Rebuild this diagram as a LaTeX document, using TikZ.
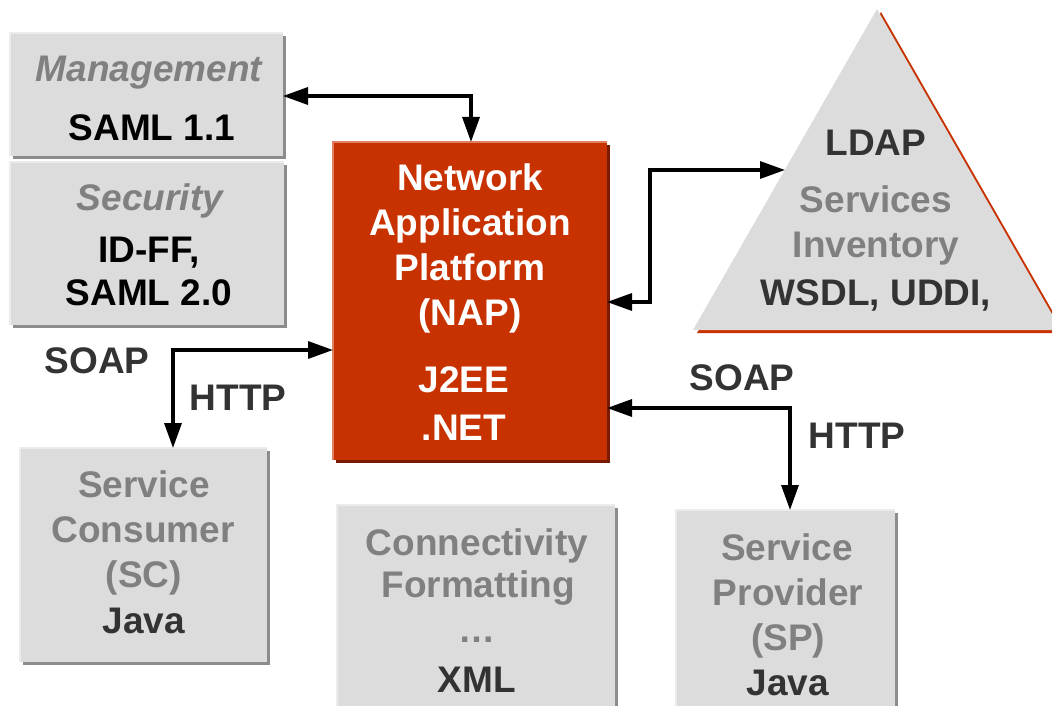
\documentclass[tikz,border=0pt]{standalone}
\usepackage{fontspec}
\setmainfont{Liberation Sans}
\usetikzlibrary{arrows.meta,shadows}
\definecolor{boxgray}{HTML}{DCDCDC}
\definecolor{shadowgray}{HTML}{8C8C8C}
\definecolor{hlgray}{HTML}{ECECEC}
\definecolor{napred}{HTML}{C83200}
\definecolor{napdark}{HTML}{7A1A00}
\definecolor{naphl}{HTML}{E08060}
\definecolor{txtgray}{HTML}{808080}
\definecolor{txtdark}{HTML}{333333}
\tikzset{
 box/.style={rectangle, inner sep=0pt, outer sep=0pt},
 graybox/.style={box, fill=boxgray, general shadow={fill=shadowgray, shadow xshift=3pt, shadow yshift=-3pt}},
 redbox/.style={box, fill=napred, general shadow={fill=napdark, shadow xshift=3pt, shadow yshift=-3pt}},
 hl/.style={line width=2pt, draw=hlgray},
 redhl/.style={line width=2.5pt, draw=naphl},
 txt/.style={anchor=base, inner sep=0pt, font=\fontsize{37}{44}\selectfont\bfseries},
 gtxt/.style={txt, text=txtgray},
 dtxt/.style={txt, text=txtdark},
 btxt/.style={txt, text=black},
 wtxt/.style={txt, text=white},
 itxt/.style={txt, text=txtgray, font=\fontsize{37}{44}\selectfont\bfseries\itshape},
 conn/.style={line width=3.3pt, {Triangle[length=25pt,width=17pt]}-{Triangle[length=25pt,width=17pt]}},
}
\begin{document}
\begin{tikzpicture}[x=1pt,y=-1pt]
\useasboundingbox (0,0) rectangle (1052,706);
\clip (0,0) rectangle (1052,706);
% triangle (LDAP / Services Inventory)
\fill[napred] (881,12) -- (697,333) -- (1065,333) -- cycle;
\fill[boxgray] (877,9) -- (693,330) -- (1061,330) -- cycle;
\coordinate (ldapin) at (785,170);
% boxes
\node[graybox, minimum width=273pt, minimum height=123pt] (mgmt) at (146.5,94.5) {};
\node[graybox, minimum width=274pt, minimum height=163pt] (sec) at (147,243.5) {};
\node[redbox, minimum width=274pt, minimum height=318pt] (nap) at (470,301) {};
\node[graybox, minimum width=247pt, minimum height=214pt] (sc) at (143.5,555) {};
\node[graybox, minimum width=278pt, minimum height=255pt] (cfx) at (476,632.5) {};
\node[graybox, minimum width=219pt, minimum height=250pt] (sp) at (785.5,635) {};
\draw[hl] (mgmt.south west) |- (mgmt.north east);
\draw[hl] (sec.south west) |- (sec.north east);
\draw[hl] (sc.south west) |- (sc.north east);
\draw[hl] (cfx.south west) |- (cfx.north east);
\draw[hl] (sp.south west) |- (sp.north east);
\draw[redhl] (nap.south west) |- (nap.north east);
% texts
\node[itxt] (t1) at (149,82) {Management};
\node[btxt] (t2) at (152,140) {SAML 1.1};
\node[itxt] (t3) at (150,210) {Security};
\node[btxt] (t4) at (149,262) {ID-FF,};
\node[btxt] (t5) at (149,305) {SAML 2.0};
\node[wtxt] (t6) at (470,190) {Network};
\node[wtxt] (t7) at (470,235) {Application};
\node[wtxt] (t8) at (470,280) {Platform};
\node[wtxt] (t9) at (470,325) {(NAP)};
\node[wtxt] (t10) at (464,392) {J2EE};
\node[wtxt] (t11) at (464,440) {.NET};
\node[dtxt] (t12) at (876,155) {LDAP};
\node[gtxt] (t13) at (876,212) {Services};
\node[gtxt] (t14) at (876,257) {Inventory};
\node[dtxt] (t15) at (876,305) {WSDL, UDDI,};
\node[gtxt] (t16) at (144,497) {Service};
\node[gtxt] (t17) at (143,542) {Consumer};
\node[gtxt] (t18) at (144,587) {(SC)};
\node[dtxt] (t19) at (144,633) {Java};
\node[gtxt] (t20) at (477,555) {Connectivity};
\node[gtxt] (t21) at (478,597) {Formatting};
\node[gtxt] (t22) at (477,642) {…};
\node[dtxt] (t23) at (477,692) {XML};
\node[gtxt] (t24) at (787,560) {Service};
\node[gtxt] (t25) at (788,605) {Provider};
\node[gtxt] (t26) at (788,650) {(SP)};
\node[dtxt] (t27) at (788,695) {Java};
\node[dtxt] (l1) at (97,373) {SOAP};
\node[dtxt] (l2) at (238,410) {HTTP};
\node[dtxt] (l3) at (742,390) {SOAP};
\node[dtxt] (l4) at (857,448) {HTTP};
% connectors
\coordinate (j0) at (471,96);
\coordinate (j1) at (650,302);
\coordinate (j2) at (173,350);
\coordinate (j3) at (790,408);
\draw[conn] (j0 -| mgmt.east) -- (j0) -- (j0 |- nap.north);
\draw[conn] (j1 -| nap.east) -- (j1) |- (ldapin);
\draw[conn] (j2 -| nap.west) -- (j2) -- (j2 |- sc.north);
\draw[conn] (j3 -| nap.east) -- (j3) -- (j3 |- sp.north);
\end{tikzpicture}
\end{document}
